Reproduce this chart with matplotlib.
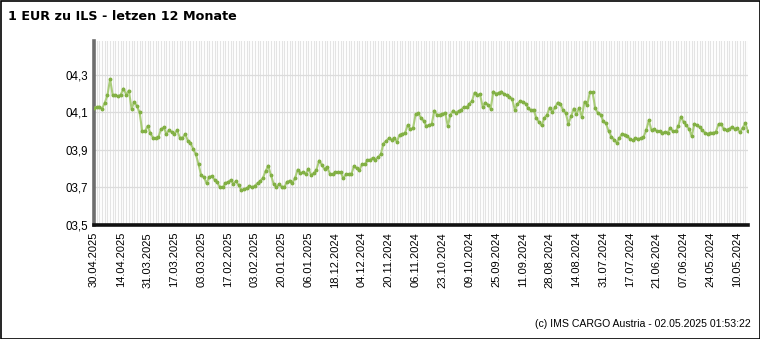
import numpy as np
import matplotlib
matplotlib.use('Agg')
import matplotlib.pyplot as plt
from matplotlib.patches import Rectangle

# EUR -> ILS, newest first (30.04.2025 ... 02.05.2024), one value per trading day
rates = [
    4.123, 4.128, 4.13, 4.12, 4.15, 4.19, 4.277, 4.19, 4.19, 4.185,
    4.195, 4.227, 4.195, 4.216, 4.12, 4.155, 4.134, 4.1, 4.0, 4.0,
    4.027, 3.99, 3.965, 3.963, 3.968, 4.01, 4.02, 3.985, 4.005, 3.995,
    3.984, 4.005, 3.966, 3.963, 3.984, 3.95, 3.937, 3.905, 3.877, 3.823,
    3.764, 3.754, 3.723, 3.757, 3.76, 3.741, 3.727, 3.70, 3.70, 3.723,
    3.729, 3.739, 3.72, 3.734, 3.711, 3.686, 3.691, 3.696, 3.707, 3.70,
    3.709, 3.723, 3.734, 3.75, 3.786, 3.816, 3.766, 3.72, 3.70, 3.716,
    3.705, 3.70, 3.73, 3.736, 3.723, 3.75, 3.795, 3.777, 3.78, 3.771,
    3.80, 3.766, 3.777, 3.795, 3.843, 3.821, 3.798, 3.809, 3.773, 3.771,
    3.782, 3.782, 3.782, 3.748, 3.77, 3.77, 3.77, 3.814, 3.802, 3.791,
    3.823, 3.823, 3.846, 3.848, 3.857, 3.848, 3.862, 3.877, 3.934, 3.948,
    3.961, 3.954, 3.964, 3.943, 3.98, 3.986, 3.989, 4.03, 4.012, 4.014,
    4.091, 4.094, 4.071, 4.054, 4.027, 4.032, 4.038, 4.109, 4.086, 4.088,
    4.093, 4.098, 4.027, 4.088, 4.109, 4.098, 4.107, 4.114, 4.129, 4.127,
    4.146, 4.159, 4.205, 4.193, 4.196, 4.13, 4.152, 4.141, 4.12, 4.211,
    4.2, 4.205, 4.211, 4.196, 4.191, 4.184, 4.17, 4.114, 4.146, 4.159,
    4.156, 4.147, 4.121, 4.111, 4.114, 4.071, 4.048, 4.03, 4.07, 4.086,
    4.125, 4.102, 4.127, 4.152, 4.146, 4.111, 4.096, 4.039, 4.08, 4.12,
    4.091, 4.123, 4.075, 4.157, 4.138, 4.207, 4.207, 4.123, 4.095, 4.088,
    4.052, 4.041, 4.0, 3.971, 3.955, 3.939, 3.962, 3.986, 3.982, 3.973,
    3.957, 3.951, 3.961, 3.959, 3.961, 3.968, 4.004, 4.057, 4.005, 4.009,
    4.0, 3.998, 3.991, 3.995, 3.991, 4.018, 3.998, 3.998, 4.027, 4.077,
    4.048, 4.03, 4.012, 3.973, 4.039, 4.03, 4.021, 4.004, 3.991, 3.986,
    3.991, 3.991, 3.996, 4.036, 4.039, 4.009, 4.007, 4.012, 4.023, 4.012,
    4.016, 3.993, 4.018, 4.041, 4.0,
]

# one label every 10 trading days
date_labels = [
    '30.04.2025', '14.04.2025', '31.03.2025', '17.03.2025', '03.03.2025',
    '17.02.2025', '03.02.2025', '20.01.2025', '06.01.2025', '18.12.2024',
    '04.12.2024', '20.11.2024', '06.11.2024', '23.10.2024', '09.10.2024',
    '25.09.2024', '11.09.2024', '28.08.2024', '14.08.2024', '31.07.2024',
    '17.07.2024', '21.06.2024', '07.06.2024', '24.05.2024', '10.05.2024',
]
y_ticks = [3.5, 3.7, 3.9, 4.1, 4.3]
y_labels = ['03,5', '03,7', '03,9', '04,1', '04,3']

plt.rcParams['font.family'] = ['Liberation Sans', 'DejaVu Sans']

x = np.arange(len(rates))

fig = plt.figure(figsize=(7.6, 3.39), dpi=100)
ax = fig.add_axes([94 / 760, 1 - 225 / 339, (748 - 94) / 760, (225 - 41) / 339])

# dense vertical grid, one line per trading day
for xi in x:
    ax.axvline(xi, color='#e4e4e4', linewidth=0.8, zorder=0)
for yt in y_ticks:
    ax.axhline(yt, color='#dcdcdc', linewidth=0.9, zorder=1)

ax.plot(x, rates, color='#aacd7a', linewidth=1.5, zorder=3)
ax.plot(x, rates, linestyle='none', marker='o', markersize=1.8,
        color='#82b044', zorder=4)

ax.set_xlim(0, len(rates) - 1)
ax.set_ylim(3.5, 4.48)

ax.set_yticks(y_ticks)
ax.set_yticklabels(y_labels, fontsize=8.3)
ax.set_xticks(x[::10])
ax.set_xticklabels(date_labels, rotation=90, fontsize=8, va='top')
ax.tick_params(axis='both', length=0, pad=4)
ax.tick_params(axis='x', pad=5)

for side in ['top', 'right']:
    ax.spines[side].set_visible(False)
ax.spines['left'].set_color('#6e6e6e')
ax.spines['left'].set_linewidth(2.6)
ax.spines['bottom'].set_color('#111111')
ax.spines['bottom'].set_linewidth(2.6)

fig.text(8 / 760, 1 - 17 / 339, '1 EUR zu ILS - letzen 12 Monate',
         fontsize=9.2, fontweight='bold', family='DejaVu Sans', va='center', ha='left')
fig.text(751 / 760, 1 - 324 / 339, '(c) IMS CARGO Austria - 02.05.2025 01:53:22',
         fontsize=7.6, va='center', ha='right')

fig.patches.append(Rectangle((0.5 / 760, 0.5 / 339), 1 - 1 / 760, 1 - 1 / 339,
                             transform=fig.transFigure, fill=False,
                             edgecolor='black', linewidth=1.2))

fig.savefig('out.png', dpi=100)
